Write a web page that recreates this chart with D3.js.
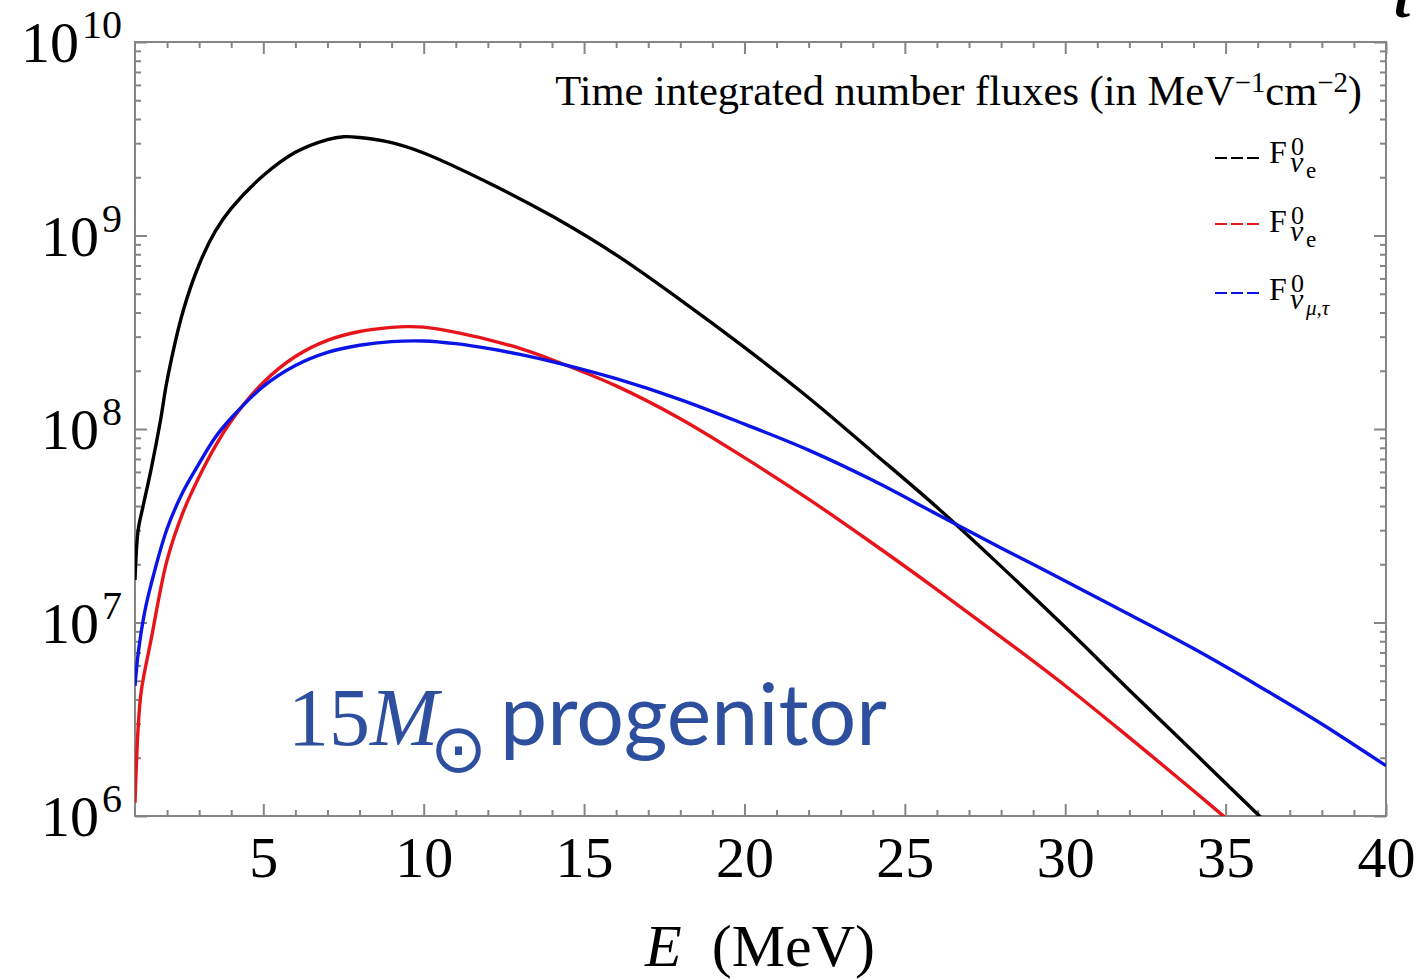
<!DOCTYPE html>
<html>
<head>
<meta charset="utf-8">
<script src="https://cdn.jsdelivr.net/npm/d3@7"></script>
<style>
  html, body { margin: 0; padding: 0; background: #fff; }
  svg { display: block; }
</style>
</head>
<body>
<svg id="chart" width="1424" height="979"></svg>
<script>
// ---------- data ----------
const energyNuE = [1.0, 1.1, 1.25, 1.5, 1.8, 2, 2.5, 3, 3.5, 4, 5, 6, 7, 7.5, 8, 9, 10, 12, 14, 16, 18, 20, 22, 24, 26, 28, 30, 32, 34, 36, 37];
const fluxNuE = [1.66e7, 3.02e7, 3.98e7, 6.17e7, 1.12e8, 1.78e8, 4.07e8, 7.08e8, 1.05e9, 1.38e9, 2.04e9, 2.69e9, 3.13e9, 3.24e9, 3.21e9, 3.02e9, 2.67e9, 1.88e9, 1.26e9, 7.94e8, 4.65e8, 2.64e8, 1.45e8, 7.59e7, 3.94e7, 1.95e7, 9.44e6, 4.47e6, 2.14e6, 1.02e6, 7.08e5];

const energyNuEbar = [1.0, 1.1, 1.2, 1.5, 2, 2.5, 3, 3.5, 4, 5, 6, 7, 8, 9, 9.5, 10, 11, 12, 13, 14, 16, 18, 20, 22, 24, 26, 28, 30, 32, 34, 35.5];
const fluxNuEbar = [1.17e6, 2.90e6, 4.48e6, 8.13e6, 2.10e7, 3.72e7, 5.66e7, 8.13e7, 1.10e8, 1.74e8, 2.37e8, 2.87e8, 3.19e8, 3.35e8, 3.38e8, 3.36e8, 3.16e8, 2.90e8, 2.61e8, 2.28e8, 1.67e8, 1.13e8, 7.11e7, 4.34e7, 2.56e7, 1.48e7, 8.41e6, 4.71e6, 2.54e6, 1.35e6, 8.32e5];

const energyNuX = [1.0, 1.1, 1.3, 1.5, 2, 2.5, 3, 3.5, 4, 5, 6, 7, 8, 9, 10, 11, 12, 13, 14, 16, 18, 20, 22, 24, 26, 28, 30, 32, 34, 36, 38, 40];
const fluxNuX = [4.70e6, 6.93e6, 1.13e7, 1.57e7, 3.05e7, 4.75e7, 6.64e7, 9.04e7, 1.14e8, 1.66e8, 2.13e8, 2.49e8, 2.71e8, 2.83e8, 2.85e8, 2.76e8, 2.61e8, 2.43e8, 2.23e8, 1.82e8, 1.42e8, 1.06e8, 7.78e7, 5.43e7, 3.63e7, 2.43e7, 1.64e7, 1.10e7, 7.33e6, 4.73e6, 2.99e6, 1.82e6];

const xMajorTicks = [5, 10, 15, 20, 25, 30, 35, 40];
const xTickLabels = ["5", "10", "15", "20", "25", "30", "35", "40"];
const yMajorTicks = [1e6, 1e7, 1e8, 1e9, 1e10];
const yTickExponents = ["6", "7", "8", "9", "10"];

const legendSubscripts = ["e", "e", "\u03bc,\u03c4"];
const seriesColors = ["#000000", "#e8141b", "#0a14e6"];

// ---------- layout ----------
const svg = d3.select("#chart");
const pLeft = 135, pRight = 1386, pTop = 42, pBottom = 816;
const x = d3.scaleLinear().domain([1, 40]).range([pLeft, pRight]);
const y = d3.scaleLog().domain([1e6, 1e10]).range([pBottom, pTop]);

const frameColor = "#858585";
const serif = "'Liberation Serif', 'Times New Roman', serif";

// minor ticks
const xMinor = d3.range(2, 40).filter(v => v % 5 !== 0);
const yMinor = [];
for (let p = 6; p < 10; p++) for (let k = 2; k <= 9; k++) yMinor.push(k * Math.pow(10, p));

function styleAxis(g) {
  g.select(".domain").remove();
  g.selectAll(".tick line").attr("stroke", frameColor).attr("stroke-width", 2);
}

// bottom
svg.append("g").attr("transform", `translate(0,${pBottom})`)
  .call(d3.axisBottom(x).tickValues(xMinor).tickSize(-6).tickFormat(""))
  .call(styleAxis);
const xb = svg.append("g").attr("transform", `translate(0,${pBottom})`)
  .call(d3.axisBottom(x).tickValues(xMajorTicks).tickSize(-12).tickPadding(0)
        .tickFormat((d, i) => xTickLabels[i]))
  .call(styleAxis);
xb.selectAll(".tick text")
  .attr("y", 61).attr("dy", null)
  .attr("font-family", serif).attr("font-size", 58).attr("fill", "#000");

// top
svg.append("g").attr("transform", `translate(0,${pTop})`)
  .call(d3.axisTop(x).tickValues(xMinor).tickSize(-6).tickFormat(""))
  .call(styleAxis);
svg.append("g").attr("transform", `translate(0,${pTop})`)
  .call(d3.axisTop(x).tickValues(xMajorTicks).tickSize(-12).tickFormat(""))
  .call(styleAxis);

// left
svg.append("g").attr("transform", `translate(${pLeft},0)`)
  .call(d3.axisLeft(y).tickValues(yMinor).tickSize(-6).tickFormat(""))
  .call(styleAxis);
svg.append("g").attr("transform", `translate(${pLeft},0)`)
  .call(d3.axisLeft(y).tickValues(yMajorTicks).tickSize(-12).tickFormat(""))
  .call(styleAxis);

// right
svg.append("g").attr("transform", `translate(${pRight},0)`)
  .call(d3.axisRight(y).tickValues(yMinor).tickSize(-6).tickFormat(""))
  .call(styleAxis);
svg.append("g").attr("transform", `translate(${pRight},0)`)
  .call(d3.axisRight(y).tickValues(yMajorTicks).tickSize(-12).tickFormat(""))
  .call(styleAxis);

// frame
svg.append("rect")
  .attr("x", pLeft).attr("y", pTop)
  .attr("width", pRight - pLeft).attr("height", pBottom - pTop)
  .attr("fill", "none").attr("stroke", frameColor).attr("stroke-width", 2);

// y tick labels 10^n
const yl = svg.append("g");
yMajorTicks.forEach((v, i) => {
  const t = yl.append("text")
    .attr("x", 122).attr("y", y(v) + 20)
    .attr("text-anchor", "end")
    .attr("font-family", serif).attr("fill", "#000");
  t.append("tspan").attr("font-size", 58).text("10");
  t.append("tspan").attr("font-size", 40).attr("dy", -24).attr("dx", 3).text(yTickExponents[i]);
});

// axis title
const xt = svg.append("text")
  .attr("x", 760).attr("y", 966).attr("text-anchor", "middle")
  .attr("font-family", serif).attr("font-size", 60).attr("fill", "#000");
xt.append("tspan").attr("font-style", "italic").text("E");
xt.append("tspan").text("\u00a0\u00a0(MeV)");

// curves
svg.append("clipPath").attr("id", "plotclip")
  .append("rect").attr("x", pLeft).attr("y", pTop)
  .attr("width", pRight - pLeft).attr("height", pBottom - pTop);

const line = d3.line()
  .x(d => x(d[0])).y(d => y(d[1]))
  .curve(d3.curveCatmullRom.alpha(0.5));

const series = [
  d3.zip(energyNuE, fluxNuE),
  d3.zip(energyNuEbar, fluxNuEbar),
  d3.zip(energyNuX, fluxNuX)
];
const curves = svg.append("g").attr("clip-path", "url(#plotclip)");
series.forEach((s, i) => {
  curves.append("path").datum(s)
    .attr("d", line)
    .attr("fill", "none")
    .attr("stroke", seriesColors[i])
    .attr("stroke-width", 3.4)
    .attr("stroke-linejoin", "round");
});

// legend title
const lt = svg.append("text")
  .attr("x", 1362).attr("y", 105).attr("text-anchor", "end")
  .attr("font-family", serif).attr("font-size", 34).attr("fill", "#000");
lt.append("tspan").text("Time integrated number fluxes (in MeV");
lt.append("tspan").attr("font-size", 23).attr("dy", -13).text("\u22121");
lt.append("tspan").attr("dy", 13).text("cm");
lt.append("tspan").attr("font-size", 23).attr("dy", -13).text("\u22122");
lt.append("tspan").attr("dy", 13).text(")");
// fit width to the reference (555 -> 1362)
(function fit() {
  const w = lt.node().getBBox().width || 807;
  const s = 807 / w;
  lt.attr("font-size", 34 * s);
  lt.selectAll("tspan").each(function () {
    const fs = this.getAttribute("font-size");
    if (fs) this.setAttribute("font-size", (+fs) * s);
  });
})();

// legend entries
const legendLineY = [158, 224, 293];
const legendBase = [163, 232, 300];
legendLineY.forEach((ly, i) => {
  const b = legendBase[i];
  svg.append("line")
    .attr("x1", 1215).attr("x2", 1259).attr("y1", ly).attr("y2", ly)
    .attr("stroke", seriesColors[i]).attr("stroke-width", 2)
    .attr("stroke-dasharray", "12,4");
  const lab = svg.append("text")
    .attr("font-family", serif).attr("fill", "#000");
  lab.append("tspan").attr("x", 1269).attr("y", b).attr("font-size", 32).text("F");
  lab.append("tspan").attr("x", 1291).attr("y", b - 8).attr("font-size", 26).text("0");
  lab.append("tspan").attr("x", 1290).attr("y", b + 9).attr("font-size", 30)
    .attr("font-style", "italic").text("\u03bd");
  lab.append("tspan").attr("x", 1306).attr("y", b + 15)
    .attr("font-size", i === 2 ? 21 : 23)
    .attr("font-style", i === 2 ? "italic" : "normal")
    .text(legendSubscripts[i]);
});

// annotation "15 M_sun progenitor"
const annBlue = "#2d4f9e";
const ann = svg.append("text")
  .attr("fill", annBlue).attr("font-family", serif);
ann.append("tspan").attr("x", 288).attr("y", 745).attr("font-size", 82).text("15");
ann.append("tspan").attr("font-size", 82).attr("font-style", "italic").text("M");
ann.append("tspan").attr("x", 430).attr("y", 772).attr("font-size", 68)
  .attr("font-family", "'DejaVu Sans', sans-serif").text("\u2299");
svg.append("text").attr("x", 500).attr("y", 745)
  .attr("fill", annBlue).attr("font-family", "Lato, 'Noto Sans', sans-serif")
  .attr("font-size", 86).attr("font-weight", 400)
  .attr("textLength", 387).attr("lengthAdjust", "spacingAndGlyphs")
  .text("progenitor");

// cropped glyph at the top-right corner (next panel label)
svg.append("text").attr("x", 1394).attr("y", 17)
  .attr("font-family", serif).attr("font-size", 58).attr("font-weight", "bold")
  .attr("font-style", "italic").attr("fill", "#000").text("t");
</script>
</body>
</html>
